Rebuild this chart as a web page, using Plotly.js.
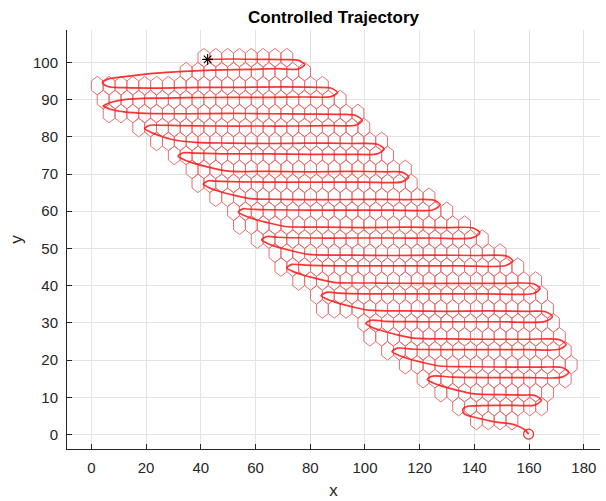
<!DOCTYPE html>
<html>
<head>
<meta charset="utf-8">
<script src="https://cdn.plot.ly/plotly-3.0.1.min.js"></script>
<style>html,body{margin:0;padding:0;background:#fff;}#chart{width:606px;height:501px;}</style>
</head>
<body>
<div id="chart"></div>
<script>
// Hexagonal cells: one row per entry (row centre y, first and last cell centre x)
const rowY = [101.25, 97.5, 93.75, 90, 86.25, 82.5, 78.75, 75, 71.25, 67.5, 63.75, 60, 56.25,
              52.5, 48.75, 45, 41.25, 37.5, 33.75, 30, 26.25, 22.5, 18.75, 15, 11.25, 7.5, 3.75];
const rowFirstX = [41.14, 34.64, 2.17, 4.33, 6.50, 17.32, 23.82, 30.31, 36.81, 38.97, 45.47, 51.96, 54.13,
                   60.62, 67.12, 69.28, 75.78, 82.27, 84.44, 99.59, 101.76, 108.25, 114.75, 121.24, 127.74, 134.23, 140.73];
const rowLastX = [71.45, 77.94, 84.44, 90.93, 97.43, 99.59, 106.09, 108.25, 114.75, 116.91, 123.41, 129.90, 136.40,
                  142.89, 149.39, 155.88, 162.38, 164.54, 166.71, 168.87, 171.04, 173.20, 175.37, 173.20, 166.71, 164.54, 153.72];
const hexStep = 4.33;   // centre spacing along a row
const hexR = 2.5;       // hexagon circumradius

// Controlled trajectory (from the start '*' to the end 'o'); the sharp corner at (4.2, 88.3) splits it in two parts
const trajX1 = [42.5,52,62,70,75.5, 78,
  75.5,68,58,48,40,32,24,16,9,6, 4,6,
  12,25,40,55,70,82,87.5, 90,
  87.5,78,65,50,35,22,12,7, 4.2];
const trajY1 = [100.8,100.9,100.8,100.75,100.6, 99.4,
  98.2,98.3,98.1,98.0,97.8,97.5,97.1,96.5,95.9,95.5, 94.5,93.5,
  93.2,93.1,93.3,93.3,93.4,93.3,93.1, 91.9,
  90.8,90.7,90.6,90.6,90.5,90.4,90.0,89.2, 88.3];
const trajX2 = [4.2,
  7,12,20,35,50,65,80,93,96.5, 99,
  96.5,88,75,60,45,32,25,21.5, 19.5,21.5,25,30,38,
  50,65,80,95,104.5, 107,
  104.5,95,80,65,50,38,33.7, 31.7,33.7,37,42,50,
  65,80,95,108,113.5, 116,
  113.5,100,85,70,55,45,42.9, 40.9,42.9,46,51,58,
  70,85,100,115,125, 127.5,
  125,110,95,80,65,57,55.7, 53.7,55.7,59,64,71,
  85,100,115,130,139.5, 142,
  139.5,125,110,95,80,68,64.2, 62.2,64.2,67.5,72.5,79.5,
  95,110,125,140,151.5, 154,
  151.5,135,120,105,90,78,73.4, 71.4,73.4,76.7,81.7,88.7,
  105,120,135,150,161.5, 164,
  161.5,145,130,115,100,90,86, 84,86,89.3,94.3,101.3,
  115,130,145,160,166, 168.5,
  166,150,135,120,108,102.3, 100.3,102.3,105.6,110.6,117.6,
  130,145,160,171, 173.5,
  171,160,145,130,118,111.9, 109.9,111.9,115.2,120.2,127.2,
  140,155,165,172, 174.5,
  172,160,145,132,124.8, 122.8,124.8,128.1,133.1,140.1,
  150,158,162, 164.5,
  162,155,147,140,137.5,
  135.8,136.2,138.5,142.5,146,149.5,153,156,158.5,159.8];
const trajY2 = [88.3,
  87.4,86.7,86.3,86.2,86.3,86.2,86.1,86.0,85.8, 84.4,
  83.1,83.0,82.9,82.9,82.9,83.0,83.1,83.1, 82.2,81.3,80.3,79.2,78.5,
  78.3,78.2,78.3,78.2,78.0, 76.7,
  75.4,75.3,75.3,75.4,75.4,75.6,75.7, 74.8,73.9,73.0,72.0,70.8,
  70.7,70.6,70.7,70.6,70.5, 69.2,
  67.9,67.8,67.8,67.8,67.9,68.1,68.2, 67.3,66.4,65.5,64.5,63.4,
  63.2,63.1,63.2,63.1,63.0, 61.8,
  60.4,60.3,60.3,60.3,60.4,60.6,60.7, 59.8,58.9,58.0,57.0,55.9,
  55.7,55.6,55.7,55.6,55.5, 54.2,
  52.9,52.8,52.8,52.8,52.8,53.0,53.2, 52.3,51.4,50.5,49.5,48.4,
  48.2,48.1,48.2,48.1,48.0, 46.7,
  45.4,45.3,45.3,45.3,45.3,45.5,45.7, 44.8,43.9,43.0,42.0,40.9,
  40.7,40.6,40.6,40.6,40.5, 39.2,
  37.9,37.8,37.8,37.8,37.8,38.0,38.2, 37.3,36.4,35.5,34.5,33.4,
  33.2,33.1,33.2,33.1,33.0, 31.7,
  30.4,30.3,30.3,30.3,30.4,30.7, 29.8,28.9,28.0,27.0,25.9,
  25.7,25.6,25.6,25.5, 24.2,
  22.9,22.8,22.8,22.8,22.9,23.2, 22.3,21.4,20.5,19.5,18.4,
  18.2,18.1,18.1,18.0, 16.7,
  15.4,15.3,15.3,15.4,15.7, 14.8,13.9,13.0,12.0,10.9,
  10.7,10.6,10.5, 9.2,
  7.9,7.8,7.8,7.7,7.6,
  6.8,5.6,4.9,4.2,3.6,3.2,2.9,2.2,1.2,0.1];

const startPt = {x: [42.5], y: [100.8]};
const endPt = {x: [159.8], y: [0.1]};

// build hexagon outlines
const hx = [], hy = [];
const ang = [90, 30, -30, -90, -150, 150, 90];
for (let k = 0; k < rowY.length; k++) {
  const n = Math.round((rowLastX[k] - rowFirstX[k]) / hexStep) + 1;
  for (let i = 0; i < n; i++) {
    const cx = rowFirstX[k] + i * hexStep, cy = rowY[k];
    for (const a of ang) {
      const t = a * Math.PI / 180;
      hx.push(cx + hexR * Math.cos(t));
      hy.push(cy + hexR * Math.sin(t));
    }
    hx.push(null); hy.push(null);
  }
}

const font = 'Liberation Sans, Arial, Helvetica, sans-serif';
const trajLine = {color: 'rgba(255,30,30,0.9)', width: 1.7, shape: 'spline', smoothing: 0.8};
const data = [
  {x: hx, y: hy, type: 'scatter', mode: 'lines', hoverinfo: 'skip',
   line: {color: 'rgb(232,112,112)', width: 1}},
  {x: trajX1, y: trajY1, type: 'scatter', mode: 'lines', line: trajLine},
  {x: trajX2, y: trajY2, type: 'scatter', mode: 'lines', line: trajLine},
  {x: endPt.x, y: endPt.y, type: 'scatter', mode: 'markers',
   marker: {symbol: 'circle-open', size: 10, color: '#ff2020', line: {width: 1.2}}},
  {x: startPt.x, y: startPt.y, type: 'scatter', mode: 'markers',
   marker: {symbol: 'asterisk-open', size: 9, color: '#000', line: {width: 1.1, color: '#000'}}}
];

const layout = {
  width: 606, height: 501,
  margin: {l: 67, r: 6, t: 30, b: 52},
  paper_bgcolor: '#fff', plot_bgcolor: '#fff',
  showlegend: false,
  font: {family: font, size: 15, color: '#262626'},
  title: {text: '<b>Controlled Trajectory</b>', font: {family: font, size: 17, color: '#000'},
          x: 0.5, xref: 'paper', xanchor: 'center', y: 0.965, yref: 'container', yanchor: 'middle'},
  xaxis: {range: [-8.9, 185.9], tickvals: [0,20,40,60,80,100,120,140,160,180],
          showgrid: true, gridcolor: '#e3e3e3', gridwidth: 1, zeroline: false,
          showline: true, linecolor: '#262626', linewidth: 1, mirror: false,
          ticks: 'inside', ticklen: 5, tickcolor: '#262626', ticklabelstandoff: 5,
          tickfont: {size: 15, color: '#262626'},
          title: {text: 'x', font: {size: 17, color: '#262626'}, standoff: 9}},
  yaxis: {range: [-3.9, 108.7], tickvals: [0,10,20,30,40,50,60,70,80,90,100],
          showgrid: true, gridcolor: '#e3e3e3', gridwidth: 1, zeroline: false,
          showline: true, linecolor: '#262626', linewidth: 1, mirror: false,
          ticks: 'inside', ticklen: 5, tickcolor: '#262626', ticklabelstandoff: 5,
          tickfont: {size: 15, color: '#262626'},
          title: {text: 'y', font: {size: 17, color: '#262626'}, standoff: 6}}
};

Plotly.newPlot('chart', data, layout, {staticPlot: true, displayModeBar: false});
</script>
</body>
</html>
